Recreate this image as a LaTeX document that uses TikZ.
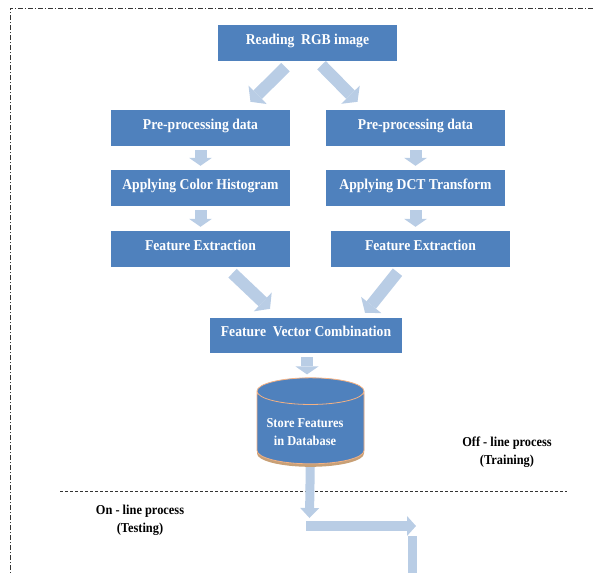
\documentclass[tikz,border=0pt]{standalone}
\usepackage{fontspec}
\setmainfont{Liberation Serif}
\newfontfamily\diagfont[FakeStretch=0.91]{Liberation Serif}
\usetikzlibrary{arrows.meta,shapes.geometric,shadows}
\definecolor{boxblue}{RGB}{79,129,189}
\definecolor{arrblue}{RGB}{185,205,229}
\definecolor{dbedge}{RGB}{244,177,131}
\definecolor{dbrim}{RGB}{200,160,118}

\begin{document}
\begin{tikzpicture}[x=1pt, y=1pt,
    box/.style={fill=boxblue, text=white, minimum width=179pt, minimum height=36pt, inner sep=0pt,
      text height=10.5pt, text depth=8.5pt, font=\diagfont\fontsize{15}{17}\selectfont\bfseries},
    fat/.style={draw=arrblue, line width=12pt, -{Triangle[length=10pt, width=26pt, line width=0pt]}},
    small/.style={draw=arrblue, line width=12pt, -{Triangle[length=8pt, width=23pt, line width=0pt]},
      shorten <=4pt, shorten >=4pt},
    slim/.style={draw=arrblue, line width=9pt, -{Triangle[length=10pt, width=19pt, line width=0pt]}},
    note/.style={align=center, font=\diagfont\fontsize{13.6}{18}\selectfont\bfseries},
    db/.style={cylinder, shape border rotate=90, aspect=4, minimum width=107pt, minimum height=86pt,
      fill=boxblue, draw=dbedge, line width=0.8pt,
      drop shadow={shadow xshift=0pt, shadow yshift=-3pt, fill=dbrim, opacity=1}},
    dbtext/.style={align=center, text=white, font=\diagfont\fontsize{13.6}{18}\selectfont\bfseries}
  ]
  \useasboundingbox (0,0) rectangle (595,-573);
  \clip (0,0) rectangle (595,-573);

  % frame and separator
  \draw[dash pattern=on 5pt off 2pt on 1pt off 2pt, line width=0.7pt, black!80] (10,-600) |- (620,-8);
  \draw[dash pattern=on 3pt off 2pt, line width=0.6pt, black!80] (60,-491) -- (567,-491);

  % boxes
  \node[box] (read) at (307.5,-43) {Reading~ RGB image};
  \node[box] (pre1) at (200.5,-128) {Pre-processing data};
  \node[box] (pre2) at (415.5,-128) {Pre-processing data};
  \node[box] (hist) at (200.5,-188) {Applying Color Histogram};
  \node[box] (dct) at (415.5,-188) {Applying DCT Transform};
  \node[box] (fe1) at (200.5,-249) {Feature Extraction};
  \node[box] (fe2) at (420.5,-249) {Feature Extraction};
  \node[box, minimum width=192pt, minimum height=35pt] (comb) at (306,-335.5) {Feature~ Vector Combination};

  % free ends of the lower arrows
  \coordinate (bend) at (309.5,-518);
  \coordinate (hstart) at (306,-526);
  \coordinate (hend) at (416,-526);
  \coordinate (vtop) at (412.5,-536);
  \coordinate (vbot) at (412.5,-590);

  \draw[slim] (310.5,-450) -- (bend);

  % database
  \node[db] (db) at (310.5,-430) {};
  \node[dbtext] (dbtxt) at (305,-432) {Store Features\\ in Database};

  % arrows
  \draw[fat] ([shift={(-22,-6)}]read.south) -- ([shift={(50,8)}]pre1.north);
  \draw[fat] ([shift={(14,-4)}]read.south) -- ([shift={(-58,8)}]pre2.north);
  \draw[small] (pre1) -- (hist);
  \draw[small] (pre2) -- (dct);
  \draw[small] (hist) -- (fe1);
  \draw[small] (dct.south) -- (dct.south |- fe2.north);
  \draw[fat] ([shift={(32,-6)}]fe1.south) -- ([shift={(-36,9)}]comb.north);
  \draw[fat] ([shift={(-23,-5)}]fe2.south) -- ([shift={(59,5)}]comb.north);
  \draw[small, shorten >=3pt] ([xshift=1pt]comb.south) -- ([xshift=1pt]comb.south |- db.north);
  \draw[slim, line width=10pt, -{Triangle[length=9pt, width=20pt, line width=0pt]}] (hstart) -- (hend);
  \draw[draw=arrblue, line width=9pt] (vtop) -- (vbot);

  % labels
  \node[note] (offline) at (507,-452) {Off - line process\\(Training)};
  \node[note] (online) at (140,-520) {On - line process\\(Testing)};
\end{tikzpicture}
\end{document}
